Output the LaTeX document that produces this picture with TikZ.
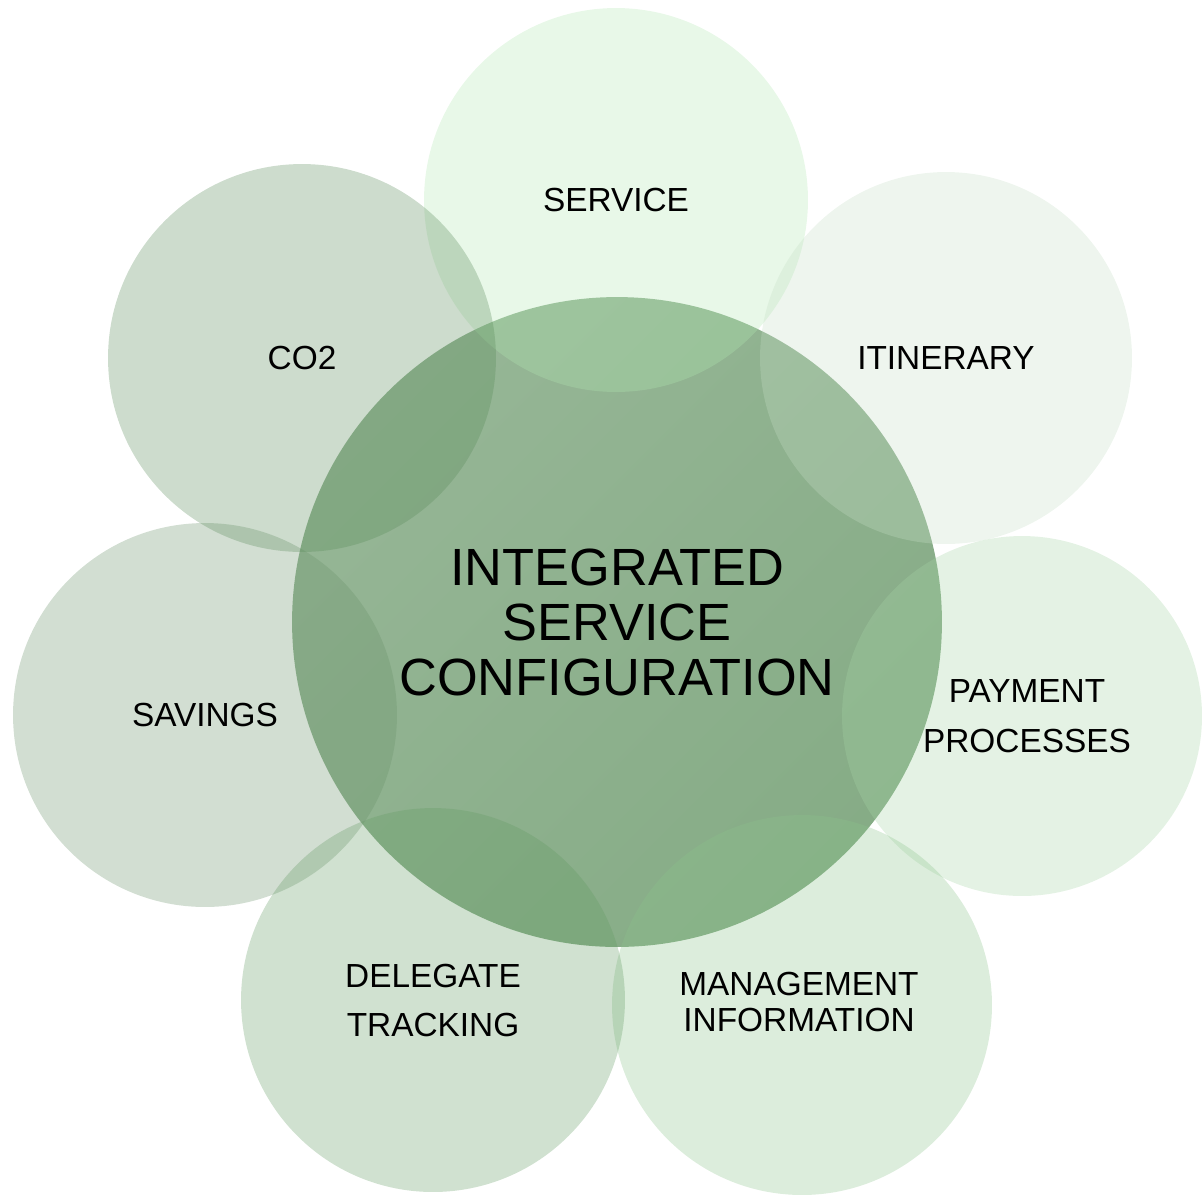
\documentclass[tikz,border=0pt]{standalone}
\usepackage{fontspec}
\setmainfont{Liberation Sans}
\definecolor{hubTop}{RGB}{150,182,150}
\definecolor{hubBot}{RGB}{134,172,134}
\definecolor{svcFill}{RGB}{178,232,178}
\definecolor{itinFill}{RGB}{198,222,198}
\definecolor{payFill}{RGB}{165,212,165}
\definecolor{mgmtFill}{RGB}{140,196,140}
\definecolor{delFill}{RGB}{98,155,98}
\definecolor{savFill}{RGB}{105,145,105}
\definecolor{coFill}{RGB}{88,138,88}
\tikzset{
  petal/.style={circle, inner sep=0pt, draw=none, fill opacity=0.3},
  petaltext/.style={font=\fontsize{19}{28}\selectfont, align=center, inner sep=0pt},
}

\begin{document}
\begin{tikzpicture}[x=0.02cm, y=-0.02cm]
        \useasboundingbox (0,0) rectangle (1202,1194);

        %% hub
        \node[circle, inner sep=0pt, minimum size=13cm, top color=hubTop, bottom color=hubBot, shading angle=45] (hub) at (617,622) {};

        %% petals
        \node[petal, minimum size=7.68cm, fill=svcFill] (service) at (616,200) {};
        \node[petal, minimum size=7.44cm, fill=itinFill] (itinerary) at (946,358) {};
        \node[petal, minimum size=7.2cm, fill=payFill] (payment) at (1022,716) {};
        \node[petal, minimum size=7.6cm, fill=mgmtFill] (mgmt) at (802,1005) {};
        \node[petal, minimum size=7.68cm, fill=delFill] (delegate) at (433,1000) {};
        \node[petal, minimum size=7.68cm, fill=savFill] (savings) at (205,715) {};
        \node[petal, minimum size=7.76cm, fill=coFill] (cotwo) at (302,358) {};

        %% labels
        \node[font=\fontsize{29.8}{31.3}\selectfont, align=center, inner sep=0pt] (hubtext) at (hub) {INTEGRATED\\SERVICE\\CONFIGURATION};
        \node[petaltext] (servicetext) at (service) {SERVICE};
        \node[petaltext] (itinerarytext) at (itinerary) {ITINERARY};
        \node[petaltext, font=\fontsize{19}{28.5}\selectfont] (paymenttext) at ([xshift=0.1cm]payment.center) {PAYMENT\\PROCESSES};
        \node[petaltext, font=\fontsize{19}{20}\selectfont] (mgmttext) at ([xshift=-0.06cm, yshift=0.06cm]mgmt.center) {MANAGEMENT\\INFORMATION};
        \node[petaltext, font=\fontsize{19}{27.9}\selectfont] (delegatetext) at (delegate) {DELEGATE\\TRACKING};
        \node[petaltext] (savingstext) at (savings) {SAVINGS};
        \node[petaltext] (cotwotext) at (cotwo) {CO2};

\end{tikzpicture}
\end{document}
